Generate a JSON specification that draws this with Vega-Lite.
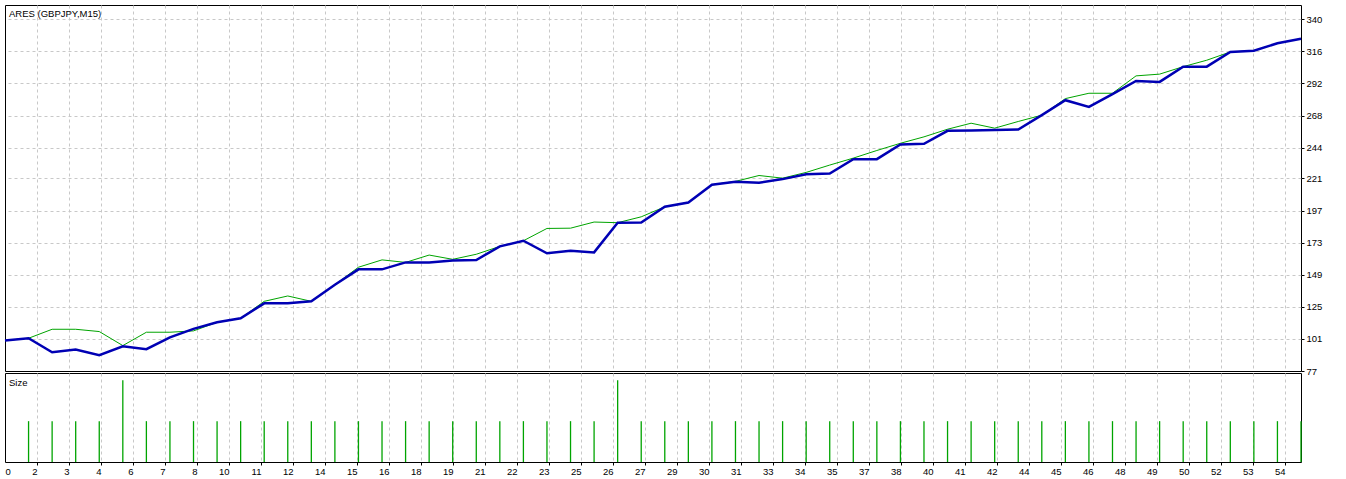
{
  "$schema": "https://vega.github.io/schema/vega-lite/v6.json",
  "padding": {"left": -1, "top": 4, "right": 0, "bottom": 0},
  "background": "white",
  "spacing": 2,
  "bounds": "flush",
  "config": {
    "view": {"stroke": "black", "strokeWidth": 1},
    "font": "Liberation Sans",
    "axis": {"gridColor": "#c8c8c8", "gridDash": [3, 3], "gridWidth": 1, "labelColor": "black", "tickColor": "black", "labelFont": "Liberation Sans", "labelFontSize": 9.5, "labelOverlap": false}
  },
  "datasets": {
    "trades": [
      {"trade": 0, "balance": 99.8, "equity": 99.8, "size": 0},
      {"trade": 1, "balance": 101.5, "equity": 101.5, "size": 0.1},
      {"trade": 2, "balance": 91.0, "equity": 108.2, "size": 0.1},
      {"trade": 3, "balance": 93.1, "equity": 108.2, "size": 0.1},
      {"trade": 4, "balance": 88.8, "equity": 106.5, "size": 0.1},
      {"trade": 5, "balance": 95.5, "equity": 96.0, "size": 0.2},
      {"trade": 6, "balance": 93.3, "equity": 106.0, "size": 0.1},
      {"trade": 7, "balance": 102.2, "equity": 106.0, "size": 0.1},
      {"trade": 8, "balance": 108.5, "equity": 107.0, "size": 0.1},
      {"trade": 9, "balance": 113.4, "equity": 113.4, "size": 0.1},
      {"trade": 10, "balance": 116.4, "equity": 116.4, "size": 0.1},
      {"trade": 11, "balance": 127.6, "equity": 129.1, "size": 0.1},
      {"trade": 12, "balance": 127.6, "equity": 133.1, "size": 0.1},
      {"trade": 13, "balance": 129.1, "equity": 129.1, "size": 0.1},
      {"trade": 14, "balance": 141.5, "equity": 141.5, "size": 0.1},
      {"trade": 15, "balance": 153.0, "equity": 154.6, "size": 0.1},
      {"trade": 16, "balance": 153.0, "equity": 160.1, "size": 0.1},
      {"trade": 17, "balance": 158.2, "equity": 158.2, "size": 0.1},
      {"trade": 18, "balance": 158.2, "equity": 163.7, "size": 0.1},
      {"trade": 19, "balance": 159.7, "equity": 160.5, "size": 0.1},
      {"trade": 20, "balance": 160.0, "equity": 164.3, "size": 0.1},
      {"trade": 21, "balance": 170.2, "equity": 170.2, "size": 0.1},
      {"trade": 22, "balance": 174.4, "equity": 174.4, "size": 0.1},
      {"trade": 23, "balance": 165.0, "equity": 183.6, "size": 0.1},
      {"trade": 24, "balance": 167.0, "equity": 183.8, "size": 0.1},
      {"trade": 25, "balance": 165.7, "equity": 188.4, "size": 0.1},
      {"trade": 26, "balance": 187.9, "equity": 187.9, "size": 0.2},
      {"trade": 27, "balance": 188.1, "equity": 192.3, "size": 0.1},
      {"trade": 28, "balance": 199.8, "equity": 199.8, "size": 0.1},
      {"trade": 29, "balance": 203.0, "equity": 203.0, "size": 0.1},
      {"trade": 30, "balance": 216.3, "equity": 216.3, "size": 0.1},
      {"trade": 31, "balance": 218.5, "equity": 218.8, "size": 0.1},
      {"trade": 32, "balance": 217.8, "equity": 223.2, "size": 0.1},
      {"trade": 33, "balance": 220.5, "equity": 221.2, "size": 0.1},
      {"trade": 34, "balance": 224.2, "equity": 225.5, "size": 0.1},
      {"trade": 35, "balance": 224.7, "equity": 231.0, "size": 0.1},
      {"trade": 36, "balance": 235.4, "equity": 236.2, "size": 0.1},
      {"trade": 37, "balance": 235.4, "equity": 241.9, "size": 0.1},
      {"trade": 38, "balance": 246.4, "equity": 247.3, "size": 0.1},
      {"trade": 39, "balance": 246.9, "equity": 252.1, "size": 0.1},
      {"trade": 40, "balance": 256.6, "equity": 257.8, "size": 0.1},
      {"trade": 41, "balance": 256.8, "equity": 262.3, "size": 0.1},
      {"trade": 42, "balance": 257.3, "equity": 258.6, "size": 0.1},
      {"trade": 43, "balance": 257.6, "equity": 263.6, "size": 0.1},
      {"trade": 44, "balance": 268.3, "equity": 268.3, "size": 0.1},
      {"trade": 45, "balance": 279.5, "equity": 280.7, "size": 0.1},
      {"trade": 46, "balance": 274.5, "equity": 284.7, "size": 0.1},
      {"trade": 47, "balance": 284.0, "equity": 284.7, "size": 0.1},
      {"trade": 48, "balance": 293.9, "equity": 297.7, "size": 0.1},
      {"trade": 49, "balance": 293.2, "equity": 299.0, "size": 0.1},
      {"trade": 50, "balance": 304.6, "equity": 304.6, "size": 0.1},
      {"trade": 51, "balance": 304.6, "equity": 309.4, "size": 0.1},
      {"trade": 52, "balance": 315.6, "equity": 315.6, "size": 0.1},
      {"trade": 53, "balance": 316.5, "equity": 316.5, "size": 0.1},
      {"trade": 54, "balance": 322.1, "equity": 322.1, "size": 0.1},
      {"trade": 55, "balance": 325.5, "equity": 325.5, "size": 0.1}
    ],
    "labels": [{"label": "ARES (GBPJPY,M15)"}]
  },
  "vconcat": [
    {
      "width": 1296,
      "height": 366,
      "resolve": {"axis": {"x": "independent", "y": "independent"}},
      "layer": [
        {
          "data": {"name": "trades"},
          "mark": {"type": "line", "color": "#00a400", "strokeWidth": 1},
          "encoding": {
            "x": {
              "field": "trade", "type": "quantitative",
              "scale": {"domain": [0, 55], "nice": false, "zero": false},
              "axis": {"values": [1.358, 2.716, 4.074, 5.432, 6.79, 8.148, 9.506, 10.864, 12.222, 13.58, 14.938, 16.296, 17.654, 19.012, 20.37, 21.728, 23.086, 24.444, 25.802, 27.16, 28.518, 29.876, 31.234, 32.592, 33.95, 35.308, 36.666, 38.024, 39.382, 40.74, 42.098, 43.456, 44.814, 46.172, 47.53, 48.888, 50.246, 51.604, 52.962, 54.32], "labels": false, "ticks": false, "domain": false, "grid": true, "title": null}
            },
            "y": {"field": "equity", "type": "quantitative", "scale": {"domain": [77, 350.7], "nice": false, "zero": false},
              "axis": {"orient": "right", "values": [77, 101, 125, 149, 173, 197, 221, 244, 268, 292, 316, 340], "grid": true, "domain": false, "tickSize": 3, "labelPadding": 2, "labelAlign": "left", "labelBaseline": "middle", "labelOverlap": false, "title": null,
                "gridOpacity": {"condition": {"test": "datum.value == 77", "value": 0}, "value": 1}}}
          }
        },
        {
          "data": {"name": "trades"},
          "mark": {"type": "line", "color": "#0000b4", "strokeWidth": 2.5},
          "encoding": {
            "x": {"field": "trade", "type": "quantitative", "axis": null},
            "y": {"field": "balance", "type": "quantitative", "axis": null}
          }
        },
        {
          "data": {"name": "labels"},
          "mark": {"type": "text", "align": "left", "baseline": "alphabetic", "dx": 4, "dy": 12, "font": "Liberation Sans", "fontSize": 9.5, "color": "black"},
          "encoding": {
            "text": {"field": "label"},
            "x": {"datum": 0, "type": "quantitative", "axis": null},
            "y": {"datum": 350.7, "type": "quantitative", "axis": null}
          }
        }
      ]
    },
    {
      "width": 1296,
      "height": 89,
      "resolve": {"axis": {"x": "independent", "y": "independent"}},
      "layer": [
        {
          "data": {"name": "trades"},
          "transform": [{"filter": "datum.size > 0"}],
          "mark": {"type": "rule", "color": "#00a400", "strokeWidth": 1.3},
          "encoding": {
            "x": {
              "field": "trade", "type": "quantitative",
              "scale": {"domain": [0, 55], "nice": false, "zero": false},
              "axis": {
                "values": [0, 1.358, 2.716, 4.074, 5.432, 6.79, 8.148, 9.506, 10.864, 12.222, 13.58, 14.938, 16.296, 17.654, 19.012, 20.37, 21.728, 23.086, 24.444, 25.802, 27.16, 28.518, 29.876, 31.234, 32.592, 33.95, 35.308, 36.666, 38.024, 39.382, 40.74, 42.098, 43.456, 44.814, 46.172, 47.53, 48.888, 50.246, 51.604, 52.962, 54.32],
                "labelExpr": "['0','2','3','4','6','7','8','10','11','12','14','15','16','18','19','21','22','23','25','26','27','29','30','31','33','34','35','37','38','40','41','42','44','45','46','48','49','50','52','53','54'][round(datum.value / 1.358)]",
                "grid": true, "domain": false, "tickSize": 3, "labelPadding": 1, "labelFlush": false, "labelOverlap": false,
                "gridOpacity": {"condition": {"test": "datum.value == 0", "value": 0}, "value": 1},
                "tickOpacity": {"condition": {"test": "datum.value == 0", "value": 0}, "value": 1},
                "labelAlign": {"condition": {"test": "datum.value == 0", "value": "left"}, "value": "right"},
                "labelBaseline": "top",
                "title": null
              }
            },
            "y": {"field": "size", "type": "quantitative", "scale": {"domain": [0, 0.2179], "nice": false, "zero": true}, "axis": null},
            "y2": {"datum": 0}
          }
        },
        {
          "data": {"values": [{"label": "Size"}]},
          "mark": {"type": "text", "align": "left", "baseline": "alphabetic", "dx": 4, "dy": 13, "font": "Liberation Sans", "fontSize": 9.5, "color": "black"},
          "encoding": {
            "text": {"field": "label"},
            "x": {"datum": 0, "type": "quantitative", "axis": null},
            "y": {"datum": 0.2179, "type": "quantitative", "axis": null}
          }
        }
      ]
    }
  ]
}
